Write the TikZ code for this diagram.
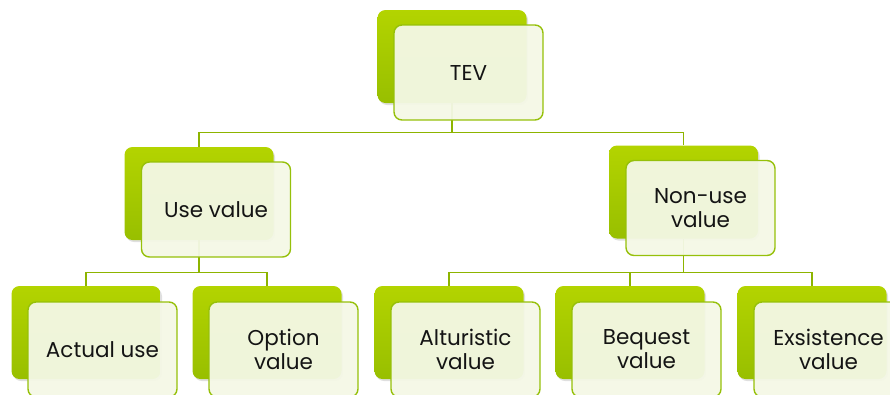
\documentclass[tikz,border=0pt]{standalone}
\usepackage{fontspec}
\setmainfont{Poppins}
\usetikzlibrary{shadows,backgrounds}
\definecolor{leafgreen}{RGB}{160,201,0}
\definecolor{leafdark}{RGB}{141,180,0}
\definecolor{leafline}{RGB}{150,192,10}
\definecolor{paleleaf}{RGB}{244,248,230}
\tikzset{
  backbox/.style={rounded corners=8pt, minimum width=149pt, minimum height=93pt, inner sep=0pt,
    top color=leafgreen!80!yellow, bottom color=leafgreen!95!black,
    drop shadow={opacity=0.25, shadow xshift=1.5pt, shadow yshift=-2pt}},
  frontbox/.style={rounded corners=8pt, minimum width=149pt, minimum height=95pt, inner sep=0pt,
    draw=leafline, line width=1.4pt, fill=paleleaf, fill opacity=0.95, text opacity=1,
    align=center, font=\fontsize{21.5}{24}\selectfont, text=black!92},
  link/.style={draw=leafdark, line width=1.4pt}
}
\begin{document}
\begin{tikzpicture}[x=1pt,y=-1pt]
			%%%%% START %%%%%
			\useasboundingbox (0,0) rectangle (890,394);
			
			% top
			\node[backbox] (tev) at (452, 56.5) {};
			
			% middle row
			\node[backbox] (usev) at (199, 193.5) {};
			\node[backbox] (nonuse) at (683.5, 192) {};
			
			% bottom row
			\node[backbox] (actual) at (86, 332.5) {};
			\node[backbox] (option) at (267, 332.5) {};
			\node[backbox] (altru) at (449, 332.5) {};
			\node[backbox] (bequest) at (630, 332.5) {};
			\node[backbox] (exist) at (812, 332.5) {};
			
			\begin{pgfonlayer}{background}
			\draw[link] (tev.south) -- ++(0,29) -| (usev.north);
			\draw[link] (tev.south) -- ++(0,29) -| (nonuse.north);
			
			\draw[link] (usev.south) -- ++(0,32) -| (actual.north);
			\draw[link] (usev.south) -- ++(0,32) -| (option.north);
			
			\draw[link] (nonuse.south) -- ++(0,34) -| (altru.north);
			\draw[link] (nonuse.south) -- ++(0,34) -| (bequest.north);
			\draw[link] (nonuse.south) -- ++(0,34) -| (exist.north);
			\end{pgfonlayer}
			
			\node[frontbox, xshift=16.5pt, yshift=-16pt] (tevf) at (tev) {TEV};
			\node[frontbox, xshift=17pt, yshift=-16pt] (usevf) at (usev) {Use value};
			\node[frontbox, xshift=17pt, yshift=-16pt] (nonusef) at (nonuse) {Non-use\\value};
			
			\node[frontbox, xshift=16.5pt, yshift=-17pt] (actualf) at (actual) {Actual use};
			\node[frontbox, xshift=16.5pt, yshift=-17pt] (optionf) at (option) {Option\\value};
			\node[frontbox, xshift=16.5pt, yshift=-17pt] (altruf) at (altru) {Alturistic\\value};
			\node[frontbox, xshift=16.5pt, yshift=-17pt] (bequestf) at (bequest) {Bequest\\value};
			\node[frontbox, xshift=16.5pt, yshift=-17pt] (existf) at (exist) {Exsistence\\value};
			
			%%%%% END %%%%%
\end{tikzpicture}
\end{document}
